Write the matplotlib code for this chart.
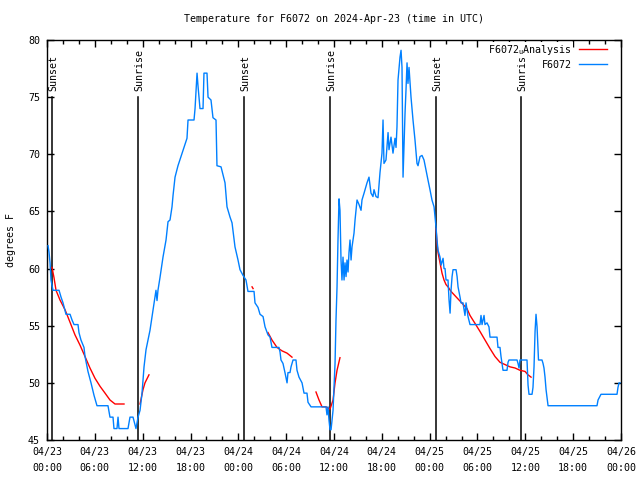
import numpy as np
import pandas as pd
import matplotlib
matplotlib.use('Agg')
import matplotlib.pyplot as plt
from matplotlib.ticker import MultipleLocator

matplotlib.rcParams['font.family'] = 'DejaVu Sans Mono'
matplotlib.rcParams['font.size'] = 7.2
matplotlib.rcParams['mathtext.fontset'] = 'custom'
matplotlib.rcParams['mathtext.rm'] = 'DejaVu Sans Mono'

START = pd.Timestamp('2024-04-23 00:00')

# hours since 04/23 00:00 UTC, degrees F
obs_hours = [
    0.13, 0.25, 0.38, 0.50, 0.75, 1.51, 1.76, 2.01, 2.38, 2.89, 3.14, 3.39, 3.89, 4.01, 4.26,
    4.64, 4.77, 5.14, 5.52, 5.90, 6.27, 7.65, 7.90, 8.28, 8.40, 8.78, 8.91, 9.03, 10.16, 10.41,
    10.79, 11.16, 11.42, 11.67, 11.92, 12.17, 12.42, 12.92, 13.30, 13.67, 13.80, 13.92, 14.17,
    14.55, 14.93, 15.18, 15.43, 15.68, 15.81, 16.06, 16.43, 16.81, 17.19, 17.56, 17.69, 18.44,
    18.57, 18.82, 18.94, 19.19, 19.57, 19.69, 20.07, 20.20, 20.57, 20.82, 21.20, 21.32, 21.83,
    22.33, 22.58, 22.96, 23.21, 23.58, 23.96, 24.21, 24.59, 24.96, 25.21, 25.97, 26.09, 26.47,
    26.72, 27.10, 27.35, 27.72, 27.98, 28.22, 29.10, 29.23, 29.35, 29.60, 29.85, 30.11, 30.23,
    30.48, 30.61, 30.86, 31.23, 31.36, 31.61, 31.99, 32.24, 32.61, 32.74, 33.12, 35.00, 35.12,
    35.25, 35.37, 35.50, 35.63, 35.75, 35.88, 36.00, 36.13, 36.25, 36.38, 36.50, 36.63, 36.75,
    36.88, 37.00, 37.13, 37.26, 37.38, 37.51, 37.63, 37.76, 37.88, 38.01, 38.14, 38.26, 38.51,
    38.64, 38.89, 39.14, 39.39, 39.51, 39.77, 40.14, 40.39, 40.64, 40.89, 41.02, 41.27, 41.52,
    41.77, 42.02, 42.15, 42.27, 42.52, 42.78, 42.90, 43.15, 43.40, 43.65, 43.78, 43.90, 44.03,
    44.28, 44.41, 44.53, 44.66, 44.91, 45.03, 45.16, 45.28, 45.41, 45.66, 45.79, 45.91, 46.16,
    46.41, 46.54, 46.79, 47.04, 47.29, 47.54, 47.79, 48.04, 48.29, 48.55, 48.67, 48.80, 48.92,
    49.05, 49.30, 49.43, 49.68, 49.80, 49.93, 50.05, 50.30, 50.43, 50.56, 50.68, 50.81, 50.93,
    51.31, 51.44, 51.56, 51.81, 51.93, 52.18, 52.31, 52.43, 52.56, 52.68, 52.81, 53.06, 54.31,
    54.44, 54.57, 54.82, 54.94, 55.19, 55.44, 55.57, 56.45, 56.57, 56.82, 56.95, 57.08, 57.20,
    57.70, 57.83, 57.95, 58.96, 59.08, 59.21, 59.33, 60.21, 60.34, 60.46, 60.84, 60.96, 61.09,
    61.22, 61.34, 61.47, 61.59, 61.65, 62.09, 62.22, 62.34, 62.47, 62.60, 62.72, 62.85, 68.99,
    69.12, 69.49, 71.50, 71.62, 71.75, 71.87,
]
obs_temps = [
    62.0, 61.45, 60.5, 59.0, 58.1, 58.1, 57.5, 57.0, 56.0, 56.0, 55.5, 55.1, 55.1, 54.4, 53.75,
    53.1, 52.3, 51.0, 50.0, 48.9, 48.0, 48.0, 47.0, 47.0, 46.0, 46.0, 47.0, 46.0, 46.0, 47.0,
    47.0, 46.0, 47.0, 47.6, 49.1, 51.4, 52.9, 54.6, 56.4, 58.1, 57.2, 58.1, 59.2,
    61.0, 62.5, 64.1, 64.25, 65.4, 66.4, 68.0, 69.0, 69.8, 70.6, 71.4, 73.0, 73.0,
    74.0, 77.1, 76.0, 74.0, 74.0, 77.1, 77.1, 75.0, 74.75, 73.2, 73.0, 69.0, 68.9,
    67.5, 65.4, 64.5, 64.0, 61.9, 60.75, 59.9, 59.4, 59.0, 58.0, 58.0, 57.0, 56.6,
    56.0, 55.8, 54.9, 54.2, 54.0, 53.1, 53.1, 52.7, 52.0, 51.7, 50.9, 50.0, 50.9,
    50.9, 51.4, 52.0, 52.0, 51.1, 50.5, 50.0, 49.1, 49.1, 48.3, 47.9, 47.9, 47.2,
    47.9, 46.75, 45.9, 45.9, 46.75, 47.6, 49.6, 51.7, 55.5, 58.4, 62.5, 66.1, 65.1,
    60.75, 59.0, 61.0, 59.0, 60.5, 59.3, 60.75, 59.7, 61.4, 62.5, 60.75, 61.9, 63.1,
    64.25, 66.0, 65.6, 65.1, 66.0, 66.6, 67.5, 68.0, 66.6, 66.3, 66.9, 66.3, 66.2,
    68.4, 70.1, 73.0, 69.2, 69.5, 71.9, 70.4, 71.5, 70.1, 71.4, 70.6, 72.4, 76.5,
    78.5, 79.1, 77.6, 68.0, 73.6, 75.6, 78.0, 76.2, 77.6, 75.0, 73.9, 73.0, 71.25,
    69.2, 69.0, 69.8, 69.9, 69.5, 68.6, 67.75, 66.9, 66.0, 65.4, 64.5, 63.6, 62.5,
    61.6, 61.0, 60.3, 60.9, 60.0, 60.0, 59.0, 59.0, 57.25, 56.1, 58.1, 59.3, 59.9,
    59.9, 59.3, 58.4, 57.5, 57.0, 57.0, 56.4, 55.9, 57.0, 56.4, 55.8, 55.1, 55.1,
    55.9, 55.1, 55.9, 55.1, 55.25, 54.9, 54.0, 54.0, 53.1, 53.1, 52.3, 51.7, 51.1,
    51.1, 51.8, 52.0, 52.0, 51.7, 51.3, 52.0, 52.0, 49.8, 49.0, 49.0, 49.6, 51.4,
    54.5, 56.0, 54.9, 52.9, 52.0, 52.0, 51.7, 51.3, 50.5, 49.4, 48.75, 48.0, 48.0,
    48.5, 49.0, 49.0, 49.6, 50.0, 50.0,
]

# analysis series, NaN separates the pieces
ana_hours = [
    0.63, 0.88, 1.13, 1.63, 2.26, 2.89, 3.51, 4.14, 4.77, 5.39, 6.02, 6.65, 7.28, 7.90, 8.53, 9.66,
    np.nan, 11.67, 12.04, 12.29, 12.79,
    np.nan, 25.72, 25.85,
    np.nan, 27.72, 28.22, 28.85, 29.48, 30.11, 30.73,
    np.nan, 33.74, 34.12, 34.50, 35.00, 35.50, 35.88, 36.13, 36.38, 36.75,
    np.nan, 48.80, 48.92, 49.05, 49.30, 49.55, 49.80, 50.05, 50.30, 50.68, 52.68, 53.06, 53.69,
    54.31, 54.94, 55.57, 56.20, 56.82, 57.45, 58.08, 58.71, 59.33, 59.96, 60.34, 60.72,
]
ana_temps = [
    60.1, 59.2, 58.1, 57.25, 56.4, 55.3, 54.2, 53.3, 52.3, 51.3, 50.4, 49.7, 49.1, 48.5, 48.15, 48.15,
    np.nan, 48.15, 49.4, 50.0, 50.7,
    np.nan, 58.4, 58.25,
    np.nan, 54.4, 53.75, 53.1, 52.8, 52.6, 52.25,
    np.nan, 49.2, 48.5, 47.9, 47.9, 47.7, 48.5, 50.0, 51.1, 52.2,
    np.nan, 63.5, 62.2, 61.4, 60.5, 59.6, 59.0, 58.6, 58.4, 58.0, 56.5, 55.9, 55.2,
    54.5, 53.75, 53.0, 52.3, 51.8, 51.6, 51.4, 51.3, 51.1, 51.0, 50.7, 50.5,
]

sun_hours = [0.63, 11.42, 24.71, 35.5, 48.8, 59.46]
sun_labels = ['Sunset', 'Sunrise', 'Sunset', 'Sunrise', 'Sunset', 'Sunrise']

fig = plt.figure(figsize=(6.4, 4.8), dpi=100)
ax = fig.add_axes([47 / 640, 40 / 480, 574 / 640, 400 / 480])

for h, lab in zip(sun_hours, sun_labels):
    ax.plot([h, h], [45, 75], color='black', lw=1.1, zorder=2)
    ax.text(h + 0.15, 75.5, lab, rotation=90, ha='center', va='bottom', zorder=3)

ax.plot(ana_hours, ana_temps, color='#ff0000', lw=1.0, label='F6072$_\\mathrm{u}$Analysis', zorder=4)
ax.plot(obs_hours, obs_temps, color='#0080ff', lw=1.0, label='F6072', zorder=4)

ax.set_xlim(0, 72)
ax.set_ylim(45, 80)
xt = np.arange(0, 73, 6)
ax.set_xticks(xt)
ax.set_xticklabels([(START + pd.Timedelta(hours=int(h))).strftime('%m/%d\n%H:%M') for h in xt],
                   linespacing=1.8)
ax.xaxis.set_minor_locator(MultipleLocator(2))
ax.set_yticks(np.arange(45, 81, 5))
ax.tick_params(which='both', direction='in', top=True, right=True, width=1)
ax.tick_params(which='major', length=5, pad=5)
ax.tick_params(which='minor', length=3)
for s in ax.spines.values():
    s.set_linewidth(1)

ax.set_ylabel('degrees F', labelpad=9)
ax.set_title('Temperature for F6072 on 2024-Apr-23 (time in UTC)', fontsize=7.2, pad=13)

leg = ax.legend(loc='upper right', bbox_to_anchor=(0.977, 0.995), markerfirst=False,
                frameon=False, borderpad=0.1, borderaxespad=0, handlelength=2.8,
                handletextpad=0.7, labelspacing=0.3)
# the key text sits on an opaque patch, hiding the end of the last sun label
leg.get_texts()[0].set_bbox(dict(facecolor='white', edgecolor='none', pad=1))
leg.set_zorder(6)

fig.savefig('out.png', dpi=100)
